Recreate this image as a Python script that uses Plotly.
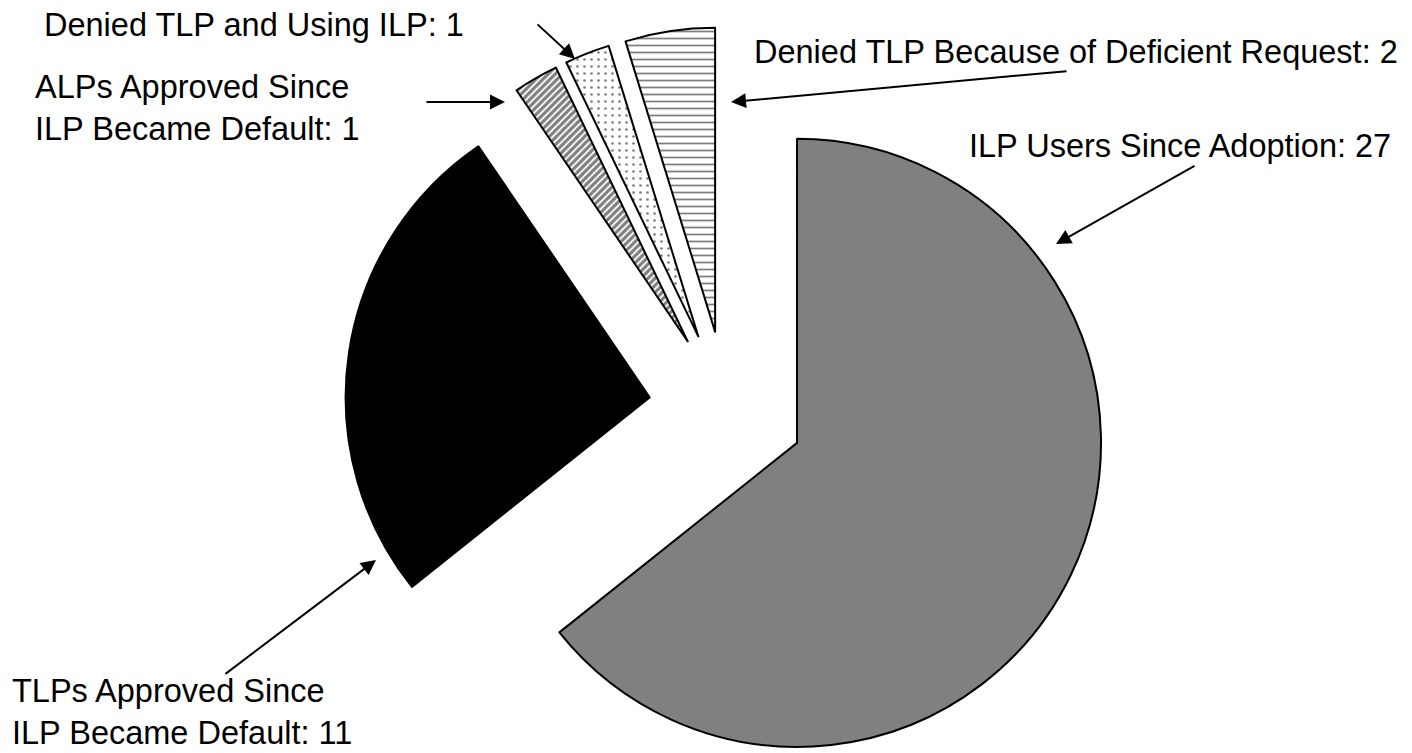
import plotly.graph_objects as go

# ---- data ----
labels = [
    "ILP Users Since Adoption",
    "TLPs Approved Since ILP Became Default",
    "ALPs Approved Since ILP Became Default",
    "Denied TLP and Using ILP",
    "Denied TLP Because of Deficient Request",
]
values = [27, 11, 1, 1, 2]
fill_colors = ["#808080", "#000000", "#ffffff", "#ffffff", "#ffffff"]
pattern_shapes = ["", "", "/", ".", "-"]
pattern_sizes = [8, 8, 5, 7, 7]
pattern_solidity = [0.3, 0.3, 0.65, 0.12, 0.25]

# label texts: (text, left x px, vertical centre y px)
label_texts = [
    ("Denied TLP and Using ILP: 1", 42, 25),
    ("ALPs Approved Since<br>ILP Became Default: 1", 33, 108),
    ("Denied TLP Because of Deficient Request: 2", 752, 52),
    ("ILP Users Since Adoption: 27", 967, 146),
    ("TLPs Approved Since<br>ILP Became Default: 11", 10, 712),
]
# arrows: (tail x, tail y, head x, head y) in px
arrows = [
    (536, 23, 575, 59),
    (425, 102, 505, 102),
    (1068, 71, 731, 102),
    (1196, 165, 1056, 244),
    (224, 675, 376, 560),
]

W, H = 1412, 791
MT = 27
PW, PH = W, H - MT


def px(x):
    return x / PW


def py(y):
    return 1 - (y - MT) / PH


fig = go.Figure(
    go.Pie(
        labels=labels,
        values=values,
        sort=False,
        direction="clockwise",
        rotation=0,
        pull=[0.2566] * len(values),
        textinfo="none",
        hoverinfo="label+value",
        domain=dict(x=[0.2397, 0.7897], y=[0, 1]),
        marker=dict(
            colors=fill_colors,
            line=dict(color="black", width=2),
            pattern=dict(
                shape=pattern_shapes,
                fgcolor="black",
                size=pattern_sizes,
                solidity=pattern_solidity,
                fillmode="overlay",
            ),
        ),
    )
)

annotations = []
for text, x, y in label_texts:
    annotations.append(dict(
        text=text, x=px(x), y=py(y), xref="paper", yref="paper",
        xanchor="left", yanchor="middle", align="left", showarrow=False,
        font=dict(family="Liberation Sans, Arial", size=32.5, color="black"),
    ))
for tx, ty, hx, hy in arrows:
    annotations.append(dict(
        text="", x=px(hx), y=py(hy), xref="paper", yref="paper",
        ax=tx - hx, ay=ty - hy, axref="pixel", ayref="pixel",
        showarrow=True, arrowhead=2, arrowsize=1.5, arrowwidth=2,
        arrowcolor="black",
    ))

fig.update_layout(
    width=W, height=H,
    margin=dict(l=0, r=0, t=MT, b=0, pad=0),
    paper_bgcolor="white", plot_bgcolor="white",
    showlegend=False,
    annotations=annotations,
    font=dict(family="Liberation Sans, Arial"),
)

fig.write_html(
    "out.html",
    config={"displayModeBar": False},
    post_script="document.body.style.margin='0px';"
                "document.documentElement.style.overflow='hidden';",
)
